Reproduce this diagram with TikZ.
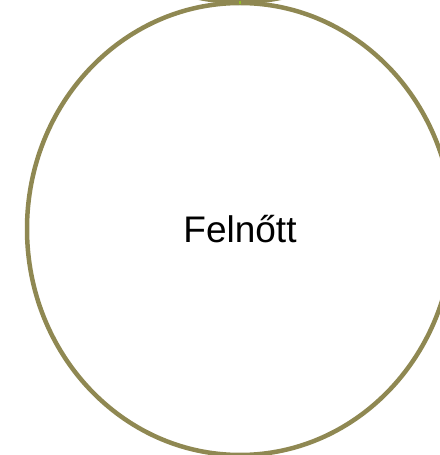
\documentclass[tikz,border=0pt]{standalone}
\usepackage{fontspec}
\setmainfont{Liberation Sans}
\usetikzlibrary{shapes.geometric}
\definecolor{olivering}{RGB}{143,136,82}
\definecolor{linkgreen}{RGB}{146,190,40}

\begin{document}
\begin{tikzpicture}[
    x=1pt, y=1pt,
    stage/.style={
      draw=olivering, line width=4.5pt, ellipse,
      minimum width=426pt, minimum height=452pt,
      font=\fontsize{37}{42}\selectfont
    },
    link/.style={draw=linkgreen, line width=2pt}
]
  \useasboundingbox (0,0) rectangle (439,455);

  % the stages
  \node[stage] (child) at (240,679) {};
  \node[stage] (adult) at (240,226) {\raisebox{-2pt}{Felnőtt}};

  % connection between the stages
  \draw[link] (child.south) -- (adult.north);

\end{tikzpicture}
\end{document}
